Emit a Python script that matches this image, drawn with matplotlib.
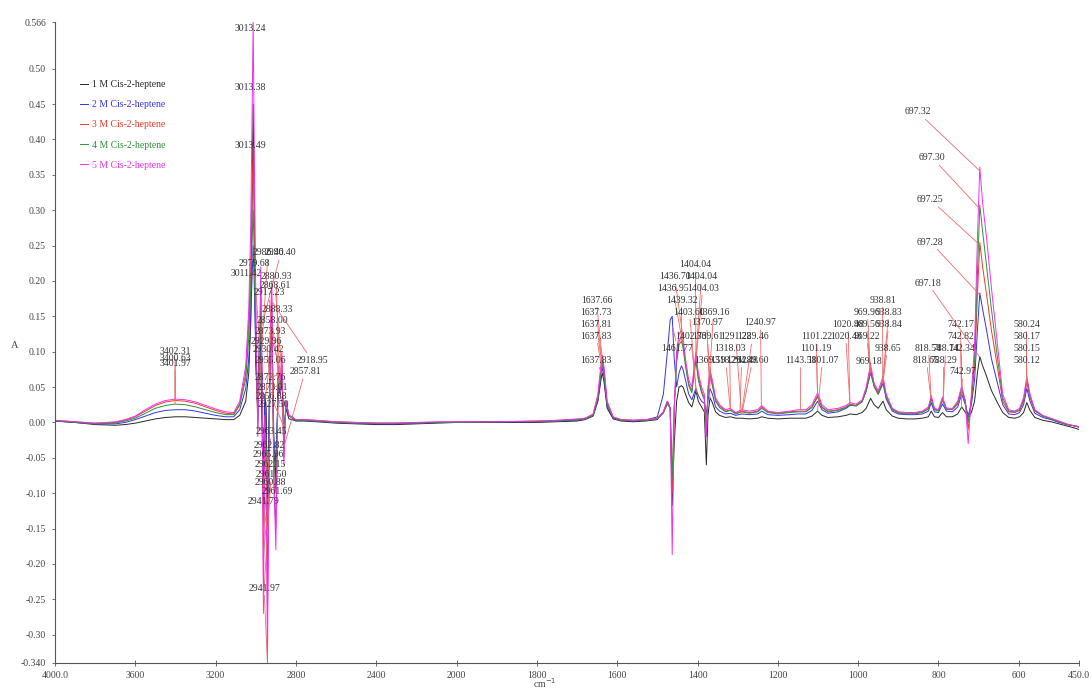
import numpy as np
import matplotlib
matplotlib.use("Agg")
import matplotlib.pyplot as plt

plt.rcParams['font.family'] = ['Liberation Serif', 'DejaVu Serif']

# wavenumber grid (cm-1), high to low
wavenumber = [
    4000, 3900, 3800, 3700, 3650,
    3600, 3550, 3500, 3450, 3400, 3350, 3300, 3250, 3200, 3150,
    3110, 3080, 3050, 3035, 3025, 3018, 3013, 3008, 3000,
    2990, 2982, 2975, 2968, 2962, 2955, 2948, 2942, 2936, 2928, 2920,
    2910, 2900, 2888, 2878, 2870, 2860, 2850, 2835, 2820, 2800,
    2760, 2700, 2600, 2500, 2400, 2300, 2200, 2100, 2000, 1900, 1800, 1750, 1700,
    1680, 1660, 1648, 1640, 1637, 1633, 1625, 1610, 1590, 1560, 1530,
    1500, 1485, 1475, 1468, 1463, 1458, 1452, 1446, 1440, 1436, 1430, 1422, 1414,
    1408, 1404, 1398, 1390, 1383, 1378, 1374, 1369, 1363, 1355, 1345, 1330, 1318, 1305,
    1290, 1270, 1250, 1240, 1225, 1200, 1170, 1150, 1130, 1115, 1101, 1090, 1075,
    1050, 1030, 1020, 1005,
    990, 980, 969, 960, 950, 938, 930, 915, 900, 880, 860, 840, 825, 818, 810, 800, 790, 780,
    765, 752, 742, 733, 726, 718, 710, 703, 697, 690, 680, 668, 655, 640, 625, 610,
    598, 588, 580, 572, 560, 540, 520, 500, 480, 460, 450,
]

abs_1m = [
    0.002, 0.000, -0.003, -0.004, -0.003,
    -0.001, 0.002, 0.005, 0.007, 0.008, 0.008, 0.007, 0.006, 0.005, 0.004,
    0.004, 0.010, 0.030, 0.070, 0.140, 0.320, 0.450, 0.300, 0.080,
    0.020, 0.120, 0.080, -0.020, -0.120, 0.040, 0.020, -0.160, -0.030, 0.100, 0.120,
    -0.040, -0.080, 0.060, 0.040, 0.070, -0.020, 0.020, 0.005, 0.004, 0.002,
    0.002, 0.001, -0.001, -0.002, -0.003, -0.003, -0.002, -0.001, 0.000, 0.000, 0.000, 0.001, 0.002,
    0.004, 0.009, 0.030, 0.062, 0.070, 0.058, 0.020, 0.005, 0.002, 0.001, 0.002,
    0.004, 0.015, 0.030, 0.020, -0.117, -0.030, 0.030, 0.050, 0.052, 0.050, 0.040, 0.028, 0.022,
    0.035, 0.045, 0.030, 0.022, 0.015, -0.060, 0.010, 0.035, 0.028, 0.015, 0.010, 0.007, 0.008, 0.006,
    0.006, 0.005, 0.006, 0.008, 0.006, 0.005, 0.006, 0.006, 0.006, 0.009, 0.016, 0.010, 0.007,
    0.008, 0.010, 0.012, 0.011,
    0.014, 0.020, 0.034, 0.025, 0.020, 0.030, 0.018, 0.009, 0.006, 0.005, 0.005, 0.006, 0.008, 0.016, 0.008, 0.007, 0.014, 0.008,
    0.008, 0.012, 0.022, 0.014, 0.008, 0.014, 0.030, 0.070, 0.093, 0.080, 0.065, 0.045, 0.030, 0.014, 0.007, 0.006,
    0.008, 0.014, 0.028, 0.017, 0.007, 0.003, 0.001, -0.002, -0.005, -0.008, -0.010,
]

abs_2m = [
    0.002, 0.000, -0.002, -0.002, 0.000,
    0.004, 0.009, 0.014, 0.017, 0.018, 0.018, 0.016, 0.013, 0.010, 0.008,
    0.008, 0.018, 0.048, 0.090, 0.150, 0.210, 0.250, 0.200, 0.100,
    0.010, 0.080, 0.140, 0.030, -0.080, 0.030, -0.020, -0.120, -0.020, 0.090, 0.130,
    -0.020, -0.060, 0.050, 0.040, 0.060, -0.010, 0.020, 0.010, 0.006, 0.003,
    0.003, 0.002, 0.000, -0.001, -0.002, -0.002, -0.001, 0.000, 0.000, 0.001, 0.001, 0.002, 0.003,
    0.005, 0.010, 0.032, 0.068, 0.078, 0.065, 0.023, 0.006, 0.003, 0.002, 0.003,
    0.008, 0.040, 0.100, 0.145, 0.150, 0.090, 0.050, 0.070, 0.080, 0.075, 0.060, 0.040, 0.032,
    0.042, 0.048, 0.038, 0.030, 0.027, 0.012, 0.030, 0.048, 0.040, 0.022, 0.016, 0.012, 0.013, 0.010,
    0.012, 0.011, 0.012, 0.016, 0.011, 0.010, 0.011, 0.012, 0.012, 0.017, 0.030, 0.018, 0.013,
    0.015, 0.020, 0.024, 0.024,
    0.030, 0.045, 0.070, 0.052, 0.040, 0.055, 0.033, 0.016, 0.012, 0.011, 0.011, 0.012, 0.016, 0.028, 0.015, 0.014, 0.026, 0.016,
    0.015, 0.022, 0.040, 0.025, 0.010, 0.025, 0.060, 0.130, 0.183, 0.160, 0.130, 0.090, 0.060, 0.025, 0.012, 0.011,
    0.014, 0.025, 0.048, 0.030, 0.013, 0.007, 0.004, 0.000, -0.003, -0.005, -0.007,
]

abs_3m = [
    0.003, 0.001, -0.001, 0.000, 0.003,
    0.008, 0.016, 0.024, 0.029, 0.031, 0.030, 0.027, 0.022, 0.017, 0.013,
    0.012, 0.026, 0.070, 0.140, 0.220, 0.330, 0.390, 0.300, 0.140,
    -0.010, 0.090, 0.180, 0.040, -0.220, 0.000, -0.060, -0.260, -0.120, 0.120, 0.170,
    -0.080, -0.150, 0.070, 0.050, 0.090, -0.050, 0.030, 0.010, 0.008, 0.004,
    0.004, 0.003, 0.001, 0.000, -0.001, -0.001, 0.000, 0.000, 0.001, 0.001, 0.002, 0.003, 0.004,
    0.006, 0.011, 0.036, 0.078, 0.088, 0.074, 0.027, 0.007, 0.004, 0.003, 0.004,
    0.006, 0.014, 0.028, 0.020, -0.100, 0.020, 0.090, 0.115, 0.120, 0.110, 0.085, 0.055, 0.045,
    0.075, 0.092, 0.065, 0.045, 0.035, -0.010, 0.045, 0.070, 0.055, 0.032, 0.023, 0.016, 0.018, 0.013,
    0.016, 0.014, 0.016, 0.022, 0.015, 0.013, 0.015, 0.016, 0.016, 0.022, 0.038, 0.022, 0.016,
    0.018, 0.022, 0.026, 0.024,
    0.030, 0.046, 0.076, 0.052, 0.042, 0.060, 0.037, 0.019, 0.014, 0.013, 0.013, 0.015, 0.020, 0.035, 0.019, 0.017, 0.033, 0.019,
    0.018, 0.026, 0.045, 0.028, -0.010, 0.030, 0.080, 0.180, 0.254, 0.220, 0.180, 0.130, 0.085, 0.030, 0.015, 0.014,
    0.017, 0.030, 0.057, 0.035, 0.016, 0.009, 0.005, 0.001, -0.003, -0.005, -0.006,
]

abs_4m = [
    0.002, 0.000, -0.002, -0.001, 0.002,
    0.006, 0.013, 0.020, 0.024, 0.026, 0.025, 0.022, 0.018, 0.014, 0.011,
    0.011, 0.024, 0.062, 0.120, 0.190, 0.260, 0.300, 0.240, 0.120,
    0.000, 0.090, 0.160, 0.040, -0.120, 0.010, -0.040, -0.190, -0.080, 0.110, 0.150,
    -0.050, -0.100, 0.060, 0.050, 0.080, -0.030, 0.030, 0.010, 0.007, 0.003,
    0.003, 0.002, 0.000, -0.001, -0.001, -0.001, -0.001, 0.000, 0.000, 0.001, 0.001, 0.002, 0.004,
    0.005, 0.010, 0.034, 0.074, 0.084, 0.070, 0.025, 0.007, 0.003, 0.003, 0.003,
    0.005, 0.013, 0.026, 0.020, -0.080, 0.020, 0.085, 0.110, 0.115, 0.105, 0.080, 0.052, 0.042,
    0.070, 0.087, 0.060, 0.042, 0.032, -0.020, 0.040, 0.066, 0.052, 0.030, 0.021, 0.015, 0.017, 0.012,
    0.015, 0.013, 0.015, 0.020, 0.014, 0.012, 0.014, 0.015, 0.015, 0.021, 0.036, 0.021, 0.015,
    0.017, 0.021, 0.025, 0.023,
    0.029, 0.044, 0.072, 0.050, 0.040, 0.058, 0.035, 0.018, 0.013, 0.012, 0.012, 0.014, 0.019, 0.033, 0.018, 0.016, 0.031, 0.018,
    0.019, 0.028, 0.048, 0.030, 0.000, 0.035, 0.090, 0.210, 0.307, 0.270, 0.220, 0.160, 0.100, 0.035, 0.016, 0.015,
    0.018, 0.032, 0.060, 0.037, 0.017, 0.009, 0.005, 0.001, -0.003, -0.005, -0.006,
]

abs_5m = [
    0.003, 0.001, -0.001, 0.001, 0.004,
    0.009, 0.018, 0.026, 0.031, 0.033, 0.032, 0.029, 0.024, 0.019, 0.015,
    0.014, 0.030, 0.080, 0.160, 0.280, 0.450, 0.566, 0.400, 0.180,
    -0.020, 0.100, 0.220, 0.050, -0.270, 0.010, -0.080, -0.340, -0.140, 0.130, 0.200,
    -0.080, -0.180, 0.080, 0.060, 0.100, -0.060, 0.030, 0.010, 0.008, 0.004,
    0.004, 0.003, 0.001, 0.000, -0.001, -0.001, 0.000, 0.001, 0.001, 0.001, 0.002, 0.003, 0.005,
    0.006, 0.012, 0.040, 0.085, 0.095, 0.080, 0.030, 0.008, 0.004, 0.003, 0.004,
    0.006, 0.015, 0.030, 0.020, -0.187, 0.020, 0.100, 0.125, 0.130, 0.120, 0.090, 0.060, 0.050,
    0.080, 0.100, 0.070, 0.050, 0.040, -0.020, 0.050, 0.075, 0.060, 0.035, 0.025, 0.018, 0.020, 0.014,
    0.018, 0.016, 0.018, 0.024, 0.016, 0.014, 0.016, 0.018, 0.018, 0.025, 0.042, 0.025, 0.018,
    0.020, 0.024, 0.028, 0.026,
    0.032, 0.050, 0.082, 0.055, 0.045, 0.065, 0.040, 0.020, 0.015, 0.014, 0.014, 0.016, 0.022, 0.038, 0.020, 0.018, 0.036, 0.020,
    0.020, 0.030, 0.052, 0.030, -0.030, 0.040, 0.110, 0.260, 0.361, 0.310, 0.260, 0.190, 0.120, 0.040, 0.018, 0.016,
    0.020, 0.035, 0.065, 0.040, 0.018, 0.010, 0.006, 0.002, -0.002, -0.005, -0.006,
]

series_names = ["1 M Cis-2-heptene", "2 M Cis-2-heptene", "3 M Cis-2-heptene",
                "4 M Cis-2-heptene", "5 M Cis-2-heptene"]
series_data = [abs_1m, abs_2m, abs_3m, abs_4m, abs_5m]
series_colors = ["#262626", "#3232f0", "#ee3a2a", "#2f8f3a", "#f030f0"]

# peak picks: text, series index (None = no leader), label x (cm-1), label y (A)
peak_labels = [
    ("3402.31", 4, 3402, 0.100), ("3400.63", 2, 3402, 0.091), ("3401.97", 3, 3402, 0.083),
    ("3013.24", None, 3029, 0.557), ("3013.38", None, 3029, 0.474), ("3013.49", None, 3029, 0.392),
    ("2986.40", 2, 2939, 0.240), ("2996.40", 4, 2875, 0.240),
    ("2979.68", 0, 3009, 0.224), ("3011.42", 1, 3049, 0.211),
    ("2880.93", 2, 2899, 0.206), ("2868.61", 3, 2904, 0.193),
    ("2917.23", 4, 2934, 0.183), ("2888.33", 0, 2894, 0.159),
    ("2858.00", 1, 2919, 0.144), ("2873.93", 2, 2929, 0.128),
    ("2929.96", 3, 2949, 0.114), ("2930.42", 0, 2939, 0.103),
    ("2955.06", 1, 2929, 0.088), ("2918.95", 4, 2720, 0.088),
    ("2857.81", 2, 2755, 0.072), ("2872.76", 3, 2929, 0.063),
    ("2873.01", 1, 2919, 0.050), ("2856.88", 0, 2924, 0.036),
    ("2927.50", 4, 2914, 0.025),
    ("2963.45", 2, 2924, -0.013), ("2962.82", 3, 2934, -0.032),
    ("2965.96", 0, 2939, -0.046), ("2962.15", 1, 2929, -0.060),
    ("2961.50", 4, 2924, -0.074), ("2960.88", 2, 2929, -0.085),
    ("2961.69", 3, 2894, -0.098), ("2941.79", 0, 2964, -0.112),
    ("2941.97", 4, 2959, -0.234),
    ("1637.66", 4, 1652, 0.173), ("1637.73", 2, 1652, 0.155), ("1637.81", 3, 1652, 0.139),
    ("1637.83", 1, 1652, 0.122), ("1637.83", 0, 1652, 0.088),
    ("1404.04", 4, 1405, 0.223),
    ("1436.70", 4, 1457, 0.206), ("1404.04", 2, 1390, 0.206),
    ("1436.95", 2, 1462, 0.190), ("1404.03", 3, 1387, 0.190),
    ("1439.32", 3, 1440, 0.173),
    ("1403.60", 1, 1420, 0.156), ("1369.16", 4, 1360, 0.156),
    ("1370.97", 2, 1377, 0.141),
    ("1402.73", 0, 1417, 0.121), ("1369.61", 3, 1375, 0.121),
    ("1291.22", 4, 1305, 0.121), ("1289.46", 2, 1263, 0.121),
    ("1461.77", 1, 1450, 0.105), ("1318.03", 4, 1320, 0.105),
    ("1369.59", 0, 1368, 0.088), ("1318.26", 2, 1330, 0.088),
    ("1294.48", 3, 1290, 0.088), ("1289.60", 1, 1263, 0.088),
    ("1240.97", 4, 1243, 0.141),
    ("1143.58", 4, 1143, 0.088),
    ("1101.22", 4, 1104, 0.121), ("1101.19", 2, 1104, 0.105), ("1101.07", 0, 1089, 0.088),
    ("1020.48", 4, 1025, 0.139), ("1020.43", 2, 1031, 0.122),
    ("938.81", 4, 939, 0.173),
    ("969.96", 4, 977, 0.156), ("938.83", 2, 924, 0.156),
    ("969.56", 2, 979, 0.139), ("938.84", 3, 924, 0.139),
    ("969.22", 3, 979, 0.122),
    ("938.65", 1, 927, 0.105),
    ("969.18", 1, 974, 0.086),
    ("742.17", 4, 745, 0.139), ("742.82", 2, 745, 0.122),
    ("818.54", 4, 825, 0.105), ("788.14", 2, 782, 0.105), ("742.34", 3, 743, 0.105),
    ("818.65", 2, 830, 0.088), ("788.29", 3, 787, 0.088),
    ("742.97", 0, 740, 0.072),
    ("580.24", 4, 581, 0.139), ("580.17", 3, 581, 0.122),
    ("580.15", 2, 581, 0.105), ("580.12", 1, 581, 0.088),
    ("697.32", 4, 852, 0.439), ("697.30", 3, 815, 0.374), ("697.25", 2, 820, 0.315),
    ("697.28", 1, 820, 0.255), ("697.18", 0, 827, 0.197),
]

x_ticks = [4000, 3600, 3200, 2800, 2400, 2000, 1800, 1600, 1400, 1200, 1000, 800, 600, 450]
x_tick_labels = ["4000.0", "3600", "3200", "2800", "2400", "2000", "1800", "1600",
                 "1400", "1200", "1000", "800", "600", "450.0"]
y_ticks = [-0.340, -0.30, -0.25, -0.20, -0.15, -0.10, -0.05, 0.00, 0.05, 0.10,
           0.15, 0.20, 0.25, 0.30, 0.35, 0.40, 0.45, 0.50, 0.566]
y_tick_labels = ["-0.340"] + ["%.2f" % v for v in y_ticks[1:-1]] + ["0.566"]


# above 2000 cm-1 the axis is drawn at half scale
def compress(x):
    x = np.asarray(x, dtype=float)
    return np.where(x > 2000, 2000 + (x - 2000) / 2.0, x)


def expand(t):
    t = np.asarray(t, dtype=float)
    return np.where(t > 2000, 2000 + (t - 2000) * 2.0, t)


fig = plt.figure(figsize=(10.92, 6.91), dpi=100)
ax = fig.add_axes([55 / 1092, 28 / 691, 1024 / 1092, 641 / 691])
ax.set_xscale('function', functions=(compress, expand))

wn = np.array(wavenumber, dtype=float)
lines = []
for name, vals, col in zip(series_names, series_data, series_colors):
    ln, = ax.plot(wn, vals, color=col, lw=0.7, label=name)
    lines.append(ln)

ax.set_xlim(4000, 450)
ax.set_ylim(-0.340, 0.566)

# peak labels with thin leader lines down to the picked curve
wn_asc = wn[::-1]
for text, idx, lx, ly in peak_labels:
    if idx is None:
        ax.text(lx, ly, text, fontsize=7, color="#333333", ha='center', va='center', zorder=6)
        continue
    pk = float(text)
    tip = np.interp(pk, wn_asc, np.array(series_data[idx], dtype=float)[::-1])
    ax.annotate(text, xy=(pk, tip), xytext=(lx, ly), textcoords='data',
                fontsize=7, color="#333333", ha='center', va='center', zorder=6,
                annotation_clip=False,
                arrowprops=dict(arrowstyle='-', color="#f06a6a", lw=0.6,
                                shrinkA=0, shrinkB=0))

ax.set_xticks(x_ticks)
ax.set_xticklabels(x_tick_labels)
ax.set_yticks(y_ticks)
ax.set_yticklabels(y_tick_labels)
ax.minorticks_off()
ax.tick_params(axis='x', direction='inout', length=4, width=0.6, pad=4,
               labelsize=7, colors="#555555", labelcolor="#444444")
ax.tick_params(axis='y', direction='out', length=2.5, width=0.6, pad=4,
               labelsize=7, colors="#555555", labelcolor="#444444")

for side in ['top', 'right']:
    ax.spines[side].set_visible(False)
for side in ['left', 'bottom']:
    ax.spines[side].set_color("#555555")
    ax.spines[side].set_linewidth(0.8)

ax.set_ylabel("A", rotation=0, fontsize=7.5, color="#444444")
ax.yaxis.set_label_coords(-0.039, 0.488)
ax.text(0.478, -0.042, "cm$^{-1}$", transform=ax.transAxes, fontsize=7,
        color="#444444", ha='center', va='bottom')

leg = ax.legend(handles=lines, loc='upper left', bbox_to_anchor=(80 / 1092, 1 - 80 / 691),
                bbox_transform=fig.transFigure, frameon=False, fontsize=7,
                handlelength=0.8, handletextpad=0.4, labelspacing=1.15,
                borderpad=0, borderaxespad=0)
for txt, ln in zip(leg.get_texts(), leg.get_lines()):
    txt.set_color(ln.get_color())

fig.savefig("out.png", dpi=100)
